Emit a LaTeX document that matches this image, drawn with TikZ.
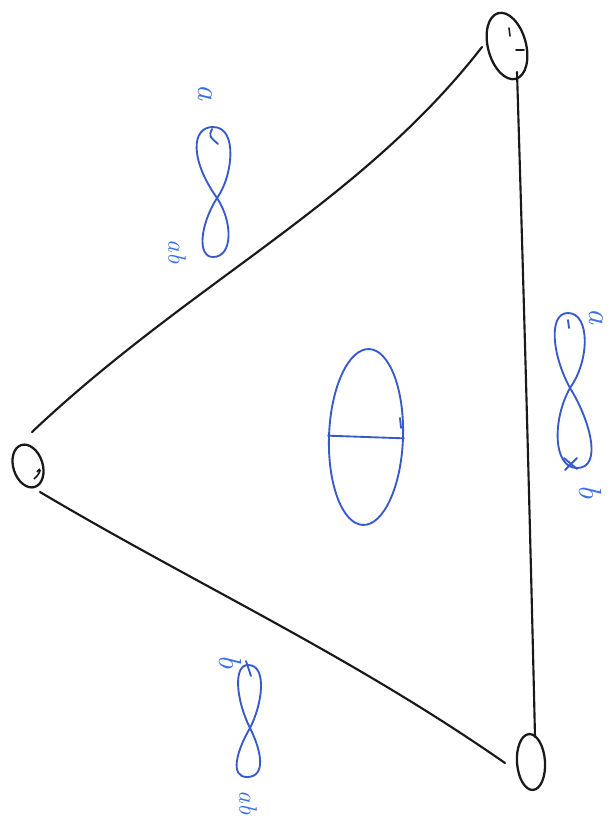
\documentclass[tikz,border=0pt]{standalone}
\usetikzlibrary{shapes.geometric}
\definecolor{ink}{RGB}{25,25,25}
\definecolor{pen}{RGB}{55,90,200}
\definecolor{penlabel}{RGB}{60,110,225}
\begin{document}
\begin{tikzpicture}[x=0.75pt,y=-0.75pt,
  edge/.style={draw=ink,line width=1.6pt,line cap=round},
  vert/.style={draw=ink,line width=1.7pt,ellipse,inner sep=0pt},
  loopline/.style={draw=pen,line width=1.4pt,line cap=round,line join=round},
  lab/.style={text=penlabel,rotate=-90,font=\fontsize{24}{24}\selectfont\itshape,inner sep=0pt},
  labsmall/.style={lab,font=\fontsize{19}{19}\selectfont\itshape},
  ]
\useasboundingbox (0,0) rectangle (613,832);
% vertices
\node[vert,minimum width=28.5pt,minimum height=51pt,rotate=15] (vTR) at (507,46) {};
\node[vert,minimum width=22pt,minimum height=33pt,rotate=18] (vL) at (28,466) {};
\node[vert,minimum width=21pt,minimum height=42pt,rotate=4] (vBR) at (531,762) {};
% small marks on vertices
\draw[ink,line width=1.2pt,line cap=round] (509,28) -- (510,36);
\draw[ink,line width=1.2pt,line cap=round] (516,50) -- (524,50);
\draw[ink,line width=1.2pt] (34,479) .. controls (42,472) and (41,466) .. (37,472);
% edge end points
\coordinate (e1a) at (482,47);
\coordinate (e1b) at (32,432);
\coordinate (e2a) at (40,492);
\coordinate (e2b) at (505,763);
\coordinate (e3a) at (517,72);
\coordinate (e3b) at (535,737);
\draw[edge] (e1a) .. controls (360,204) and (192,281) .. (e1b);
\draw[edge] (e2a) .. controls (195,584) and (350,655) .. (e2b);
\draw[edge] (e3a) .. controls (524,300) and (530,520) .. (e3b);
% figure eights
\coordinate (cTL) at (217,198);
\draw[loopline] (cTL) .. controls (232,178) and (239,127) .. (213,127)
  .. controls (191,127) and (190,160) .. (cTL)
  .. controls (233,222) and (233,257) .. (213,257)
  .. controls (197,257) and (200,225) .. (cTL);
\draw[loopline] (212,129) .. controls (209,136) .. (218,144);
\coordinate (cR) at (570,388);
\draw[loopline] (cR) .. controls (590,360) and (590,313) .. (568,313)
  .. controls (548,313) and (552,355) .. (cR)
  .. controls (590,420) and (603,468) .. (577,468)
  .. controls (553,468) and (552,420) .. (cR);
\draw[loopline] (568,320) -- (569,328);
\draw[loopline] (564,458) -- (577,469) (577,458) -- (565,470);
\coordinate (cBL) at (250,728);
\draw[loopline] (cBL) .. controls (262,705) and (268,665) .. (248,665)
  .. controls (233,665) and (236,700) .. (cBL)
  .. controls (262,752) and (266,777) .. (247,777)
  .. controls (230,777) and (236,752) .. (cBL);
\draw[loopline] (246,661) -- (251,676);
% center disk
\node[draw=pen,line width=1.4pt,ellipse,inner sep=0pt,minimum width=55.5pt,minimum height=132pt,rotate=-2] (disk) at (366,437) {};
\draw[loopline] (disk.west) -- (disk.east);
\draw[loopline] (400,418) -- (401,428);
% labels
\node[lab] (la1) at (205,92) {a};
\node[labsmall] (la2) at (177,252) {ab};
\node[lab] (lb1) at (596,316) {a};
\node[lab] (lb2) at (590,492) {b};
\node[lab] (lc1) at (230,662) {b};
\node[labsmall] (lc2) at (248,803) {ab};
\end{tikzpicture}
\end{document}
